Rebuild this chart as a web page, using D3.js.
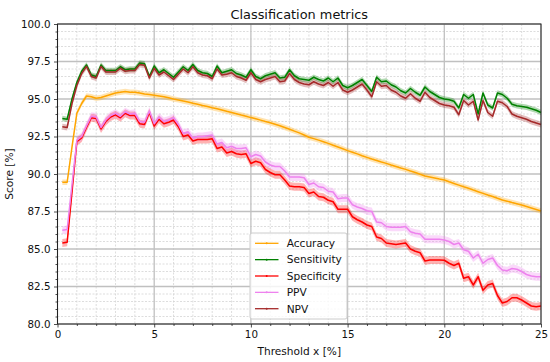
<!DOCTYPE html>
<html><head><meta charset="utf-8">
<script src="https://cdn.jsdelivr.net/npm/d3@7"></script>
<style>body{margin:0;background:#fff}svg{display:block}</style>
</head><body><svg id="c" width="550" height="362"></svg>
<script>
const thresholds = [
 0.25,0.5,0.75,1, 1.25,1.5,1.75,2, 2.25,2.5,2.75,3, 3.25,3.5,3.75,4, 4.25,4.5,4.75,5,
 5.25,5.5,5.75,6, 6.25,6.5,6.75,7, 7.25,7.5,7.75,8, 8.25,8.5,8.75,9, 9.25,9.5,9.75,10,
 10.25,10.5,10.75,11, 11.25,11.5,11.75,12, 12.25,12.5,12.75,13, 13.25,13.5,13.75,14, 14.25,14.5,14.75,15,
 15.25,15.5,15.75,16, 16.25,16.5,16.75,17, 17.25,17.5,17.75,18, 18.25,18.5,18.75,19, 19.25,19.5,19.75,20,
 20.25,20.5,20.75,21, 21.25,21.5,21.75,22, 22.25,22.5,22.75,23, 23.25,23.5,23.75,24, 24.25,24.5,24.75,25];

const accuracy = [
 89.45,89.45,91.8,94.05, 94.7,95.2,95.15,95.05, 95.1,95.2,95.3,95.4, 95.45,95.5,95.45,95.45, 95.4,95.33,95.3,95.25,
 95.2,95.15,95.08,95.0, 94.94,94.87,94.8,94.72, 94.65,94.57,94.5,94.42, 94.35,94.27,94.18,94.1, 94.02,93.93,93.85,93.76,
 93.68,93.59,93.5,93.42, 93.32,93.22,93.1,92.98, 92.86,92.74,92.6,92.45, 92.36,92.26,92.15,92.04, 91.92,91.8,91.68,91.56,
 91.45,91.34,91.22,91.11, 91.0,90.9,90.8,90.71, 90.6,90.5,90.4,90.31, 90.2,90.1,89.98,89.87, 89.8,89.73,89.66,89.6,
 89.48,89.37,89.26,89.15, 89.05,88.93,88.82,88.71, 88.6,88.5,88.38,88.27, 88.19,88.1,88.02,87.93, 87.83,87.73,87.63,87.53];

const sensitivity = [
 93.7,93.65,95.0,96.1, 96.85,97.27,96.6,96.5, 97.27,96.9,96.9,96.9, 97.15,96.95,97.0,97.0, 97.4,97.35,96.5,97.2,
 96.75,96.95,96.7,96.45, 96.8,97.15,96.9,97.3, 96.9,96.75,96.7,96.5, 97.2,96.75,96.85,96.95, 96.7,96.6,96.45,96.95,
 96.5,96.35,96.55,96.65, 96.75,96.4,96.45,96.95, 96.55,96.35,96.3,96.25, 96.45,96.3,96.2,96.4, 96.15,96.4,95.9,95.75,
 95.9,96.1,96.3,95.9, 95.5,96.45,96.15,96.2, 95.95,95.8,95.55,95.4, 95.7,95.45,95.25,95.8, 95.5,95.3,95.1,95.0,
 94.95,94.85,94.4,95.3, 95.05,95.3,94.0,95.4, 94.6,94.4,95.4,95.3, 95.05,94.65,94.55,94.5, 94.45,94.35,94.25,94.1];

const specificity = [
 85.4,85.45,88.8,92.15, 92.4,93.1,93.75,93.7, 93.0,93.5,93.8,93.95, 93.75,94.05,93.9,93.9, 93.35,93.3,94.1,93.2,
 93.65,93.35,93.45,93.6, 93.15,92.5,92.6,92.2, 92.3,92.3,92.3,92.35, 91.7,91.8,91.4,91.5, 91.35,91.3,91.35,90.7,
 90.85,90.75,90.3,90.1, 89.95,89.95,89.6,89.2, 89.15,89.15,89.1,88.7, 88.8,88.5,88.45,88.25, 88.15,87.65,87.65,87.65,
 87.15,86.95,86.8,86.6, 86.5,85.8,85.7,85.4, 85.35,85.3,85.35,85.4, 85.0,84.85,84.75,84.2, 84.27,84.27,84.27,84.25,
 84.05,83.9,84.05,83.05, 83.15,82.6,83.15,82.25, 82.6,82.7,81.9,81.4, 81.5,81.75,81.75,81.6, 81.4,81.2,81.15,81.2];

const ppv = [
 86.25,86.3,89.3,92.25, 92.5,93.2,93.85,93.8, 93.1,93.6,93.9,94.05, 93.85,94.15,94.0,94.05, 93.5,93.45,94.2,93.35,
 93.8,93.5,93.6,93.75, 93.3,92.7,92.8,92.4, 92.5,92.5,92.55,92.6, 92.0,92.1,91.75,91.85, 91.7,91.7,91.75,91.15,
 91.3,91.2,90.8,90.6, 90.5,90.5,90.2,89.8, 89.8,89.8,89.75,89.3, 89.4,89.15,89.1,88.85, 88.8,88.35,88.4,88.4,
 87.95,87.8,87.7,87.55, 87.5,86.8,86.75,86.5, 86.45,86.45,86.45,86.5, 86.15,86.05,86.0,85.65, 85.65,85.65,85.65,85.6,
 85.5,85.3,85.4,84.95, 84.85,84.4,84.65,84.05, 84.3,84.4,83.9,83.6, 83.55,83.7,83.65,83.5, 83.3,83.2,83.15,83.15];

const npv = [
 93.15,93.1,94.7,95.9, 96.7,97.17,96.5,96.4, 97.17,96.8,96.8,96.8, 97.05,96.85,96.9,96.9, 97.3,97.25,96.4,97.05,
 96.6,96.8,96.55,96.3, 96.65,97.0,96.75,97.15, 96.75,96.6,96.55,96.35, 97.0,96.6,96.65,96.75, 96.5,96.4,96.25,96.75,
 96.3,96.15,96.3,96.4, 96.5,96.15,96.2,96.7, 96.3,96.1,96.0,95.95, 96.15,96.0,95.9,96.1, 95.85,96.1,95.6,95.45,
 95.6,95.8,96.0,95.6, 95.15,96.15,95.85,95.9, 95.6,95.45,95.2,95.05, 95.35,95.05,94.85,95.45, 95.1,94.9,94.7,94.6,
 94.55,94.45,93.95,94.9, 94.6,94.85,93.6,94.9, 94.1,93.85,94.85,94.75, 94.5,94.0,93.85,93.75, 93.65,93.5,93.4,93.3];

const seriesNames = ["Accuracy","Sensitivity","Specificity","PPV","NPV"];
const seriesValues = [accuracy, sensitivity, specificity, ppv, npv];
const bandHalfWidth = [0.18, 0.18, 0.27, 0.27, 0.2];
const colors = ["#ffa500","#008000","#ff0000","#ee82ee","#a52a2a"];
const xMajorTicks = [0,5,10,15,20,25];
const yMajorTicks = [80,82.5,85,87.5,90,92.5,95,97.5,100];

const FONT = "'DejaVu Sans', sans-serif";
const L = 57.5, R = 541, T = 24, B = 324;
const svg = d3.select("#c");
const x = d3.scaleLinear().domain([0,25]).range([L,R]);
const y = d3.scaleLinear().domain([80,100]).range([B,T]);

const xMinor = d3.range(0,26,1).filter(v => !xMajorTicks.includes(v));
const yMinor = d3.range(80,100.01,0.5).filter(v => !yMajorTicks.some(t => Math.abs(t-v)<1e-6));

// grid
const g = svg.append("g");
g.selectAll(".mx").data(xMinor).join("line")
  .attr("x1", d=>x(d)).attr("x2", d=>x(d)).attr("y1",T).attr("y2",B)
  .attr("stroke","#d4d4d4").attr("stroke-width",0.8).attr("stroke-dasharray","2,1.5");
g.selectAll(".my").data(yMinor).join("line")
  .attr("y1", d=>y(d)).attr("y2", d=>y(d)).attr("x1",L).attr("x2",R)
  .attr("stroke","#d4d4d4").attr("stroke-width",0.8).attr("stroke-dasharray","2,1.5");
g.selectAll(".Mx").data(xMajorTicks).join("line")
  .attr("x1", d=>x(d)).attr("x2", d=>x(d)).attr("y1",T).attr("y2",B)
  .attr("stroke","#c0c0c0").attr("stroke-width",1.3);
g.selectAll(".My").data(yMajorTicks).join("line")
  .attr("y1", d=>y(d)).attr("y2", d=>y(d)).attr("x1",L).attr("x2",R)
  .attr("stroke","#c0c0c0").attr("stroke-width",1.3);

// bands and lines
const plot = svg.append("g");
seriesValues.forEach((vals, i) => {
  const pts = thresholds.map((t, j) => ({t, v: vals[j]}));
  const hw = bandHalfWidth[i];
  plot.append("path").datum(pts)
    .attr("d", d3.area().x(d=>x(d.t)).y0(d=>y(d.v-hw)).y1(d=>y(d.v+hw)))
    .attr("fill", colors[i]).attr("fill-opacity", 0.3);
});
seriesValues.forEach((vals, i) => {
  const pts = thresholds.map((t, j) => ({t, v: vals[j]}));
  plot.append("path").datum(pts)
    .attr("d", d3.line().x(d=>x(d.t)).y(d=>y(d.v)))
    .attr("fill","none").attr("stroke", colors[i]).attr("stroke-width",1.5)
    .attr("stroke-linejoin","round");
});

// spines
svg.append("rect").attr("x",L).attr("y",T).attr("width",R-L).attr("height",B-T)
  .attr("fill","none").attr("stroke","#222").attr("stroke-width",1);

// axes
const xAxis = svg.append("g").attr("transform",`translate(0,${B})`)
  .call(d3.axisBottom(x).tickValues(xMajorTicks).tickFormat(d3.format("d")).tickSize(3.5).tickSizeOuter(0).tickPadding(3));
const xAxisMinor = svg.append("g").attr("transform",`translate(0,${B})`)
  .call(d3.axisBottom(x).tickValues(xMinor).tickFormat("").tickSize(2).tickSizeOuter(0));
const yAxis = svg.append("g").attr("transform",`translate(${L},0)`)
  .call(d3.axisLeft(y).tickValues(yMajorTicks).tickFormat(d3.format(".1f")).tickSize(3.5).tickSizeOuter(0).tickPadding(3.5));
const yAxisMinor = svg.append("g").attr("transform",`translate(${L},0)`)
  .call(d3.axisLeft(y).tickValues(yMinor).tickFormat("").tickSize(2).tickSizeOuter(0));
[xAxis,xAxisMinor,yAxis,yAxisMinor].forEach(a => {
  a.select(".domain").remove();
  a.selectAll("line").attr("stroke","#222").attr("stroke-width",0.8);
  a.selectAll("text").attr("font-family",FONT).attr("font-size","10.3px").attr("fill","#111");
});

// title & labels
svg.append("text").attr("x",(L+R)/2).attr("y",18.5).attr("text-anchor","middle")
  .attr("font-family",FONT).attr("font-size","12.9px").attr("fill","#111").text("Classification metrics");
svg.append("text").attr("x",(L+R)/2).attr("y",355).attr("text-anchor","middle")
  .attr("font-family",FONT).attr("font-size","10.6px").attr("fill","#111").text("Threshold x [%]");
svg.append("text").attr("transform","translate(12.5,174) rotate(-90)").attr("text-anchor","middle")
  .attr("font-family",FONT).attr("font-size","10.6px").attr("fill","#111").text("Score [%]");

// legend
const lg = svg.append("g");
lg.append("rect").attr("x",250).attr("y",233).attr("width",97).attr("height",86).attr("rx",2)
  .attr("fill","#fff").attr("fill-opacity",0.8).attr("stroke","#cccccc").attr("stroke-width",1);
seriesNames.forEach((name, i) => {
  const cy = 243.3 + i*16.35;
  lg.append("line").attr("x1",255).attr("x2",278.5).attr("y1",cy).attr("y2",cy)
    .attr("stroke",colors[i]).attr("stroke-width",1.3);
  lg.append("circle").attr("cx",266.7).attr("cy",cy).attr("r",1).attr("fill",colors[i]);
  lg.append("text").attr("x",286.7).attr("y",cy+3.8).attr("font-family",FONT)
    .attr("font-size","10.6px").attr("fill","#111").text(name);
});
</script></body></html>
